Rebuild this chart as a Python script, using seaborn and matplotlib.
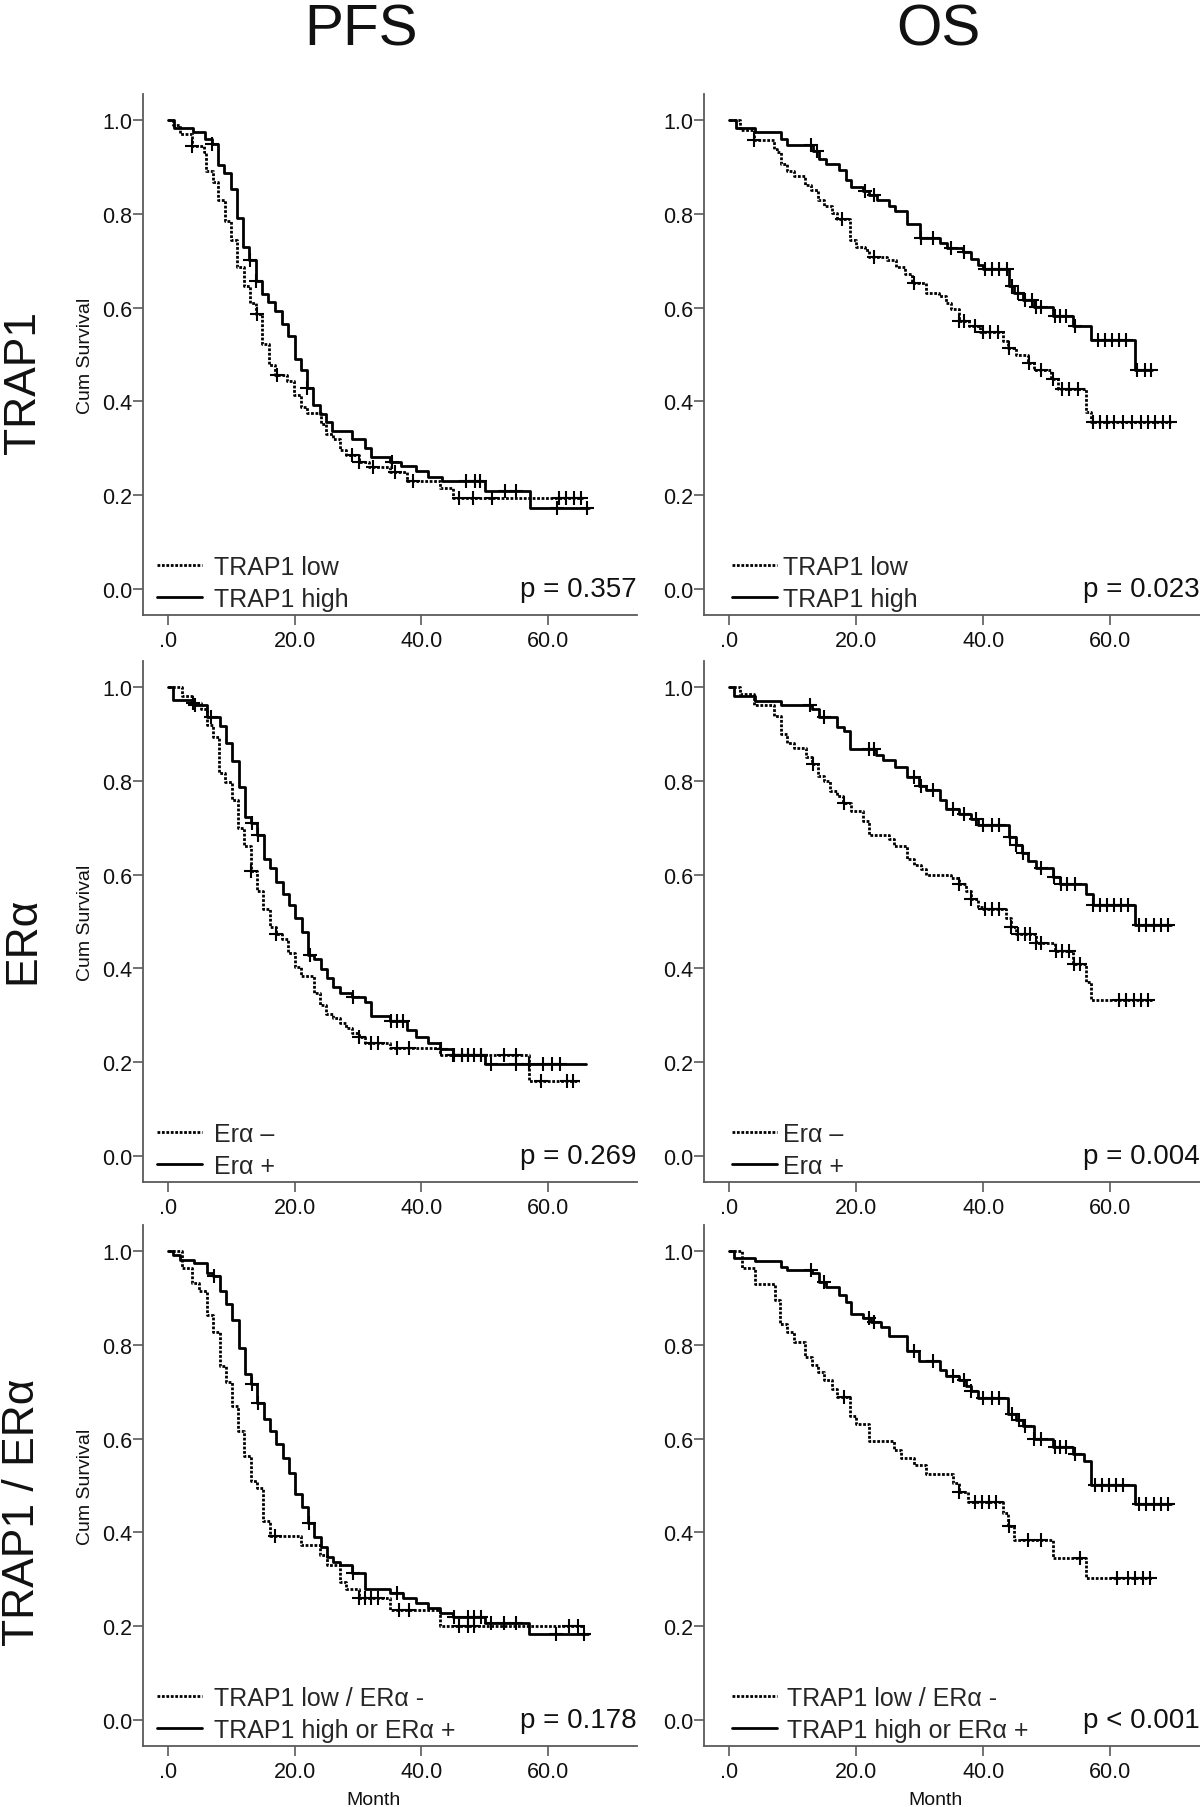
import numpy as np
import pandas as pd
import matplotlib
matplotlib.use("Agg")
import matplotlib.pyplot as plt
import seaborn as sns

# ---------------- data ----------------
col_titles = ["PFS", "OS"]
row_titles = ["TRAP1", "ERα", "TRAP1 / ERα"]
legend_labels = [["TRAP1 low", "TRAP1 high"],
                 ["Erα –", "Erα +"],
                 ["TRAP1 low / ERα -", "TRAP1 high or ERα +"]]
p_texts = [["p = 0.357", "p = 0.023"],
           ["p = 0.269", "p = 0.004"],
           ["p = 0.178", "p < 0.001"]]
x_ticks = [0, 20, 40, 60]
x_tick_labels = [".0", "20.0", "40.0", "60.0"]
y_ticks = [0.0, 0.2, 0.4, 0.6, 0.8, 1.0]
y_tick_labels = ["0.0", "0.2", "0.4", "0.6", "0.8", "1.0"]

# PFS, TRAP1
pfs_trap1_low_t = [0.8, 1.8, 3.7, 5.6, 6.0, 7.0, 7.9, 8.9, 9.9, 10.9, 11.9, 12.9, 13.9, 14.8, 15.9, 16.8, 18.8,
                   19.9, 21.0, 22.0, 24.1, 25.0, 26.1, 27.2, 28.1, 30.1, 31.7, 35.0, 37.8, 42.9, 45.0]
pfs_trap1_low_s = [0.990, 0.971, 0.946, 0.932, 0.891, 0.869, 0.829, 0.785, 0.745, 0.686, 0.646, 0.609, 0.587,
                   0.522, 0.478, 0.456, 0.444, 0.414, 0.387, 0.376, 0.352, 0.330, 0.319, 0.297, 0.286, 0.271,
                   0.260, 0.249, 0.231, 0.214, 0.194]
pfs_trap1_low_c = [3.8, 14.1, 17.2, 29.0, 30.2, 32.3, 35.9, 38.7, 45.9, 48.2, 51.1, 61.7, 62.9, 64.1, 65.3]
pfs_trap1_low_end = 65.6
pfs_trap1_high_t = [0.9, 3.9, 5.8, 6.85, 7.9, 8.8, 9.85, 10.8, 11.85, 12.8, 13.85, 14.75, 15.8, 16.85, 17.9,
                    18.95, 20.0, 20.95, 21.85, 22.9, 24.0, 25.0, 25.9, 29.1, 31.1, 32.0, 35.0, 36.8, 39.2, 41.1,
                    43.2, 50.1, 57.2]
pfs_trap1_high_s = [0.984, 0.975, 0.959, 0.950, 0.905, 0.887, 0.853, 0.791, 0.730, 0.702, 0.657, 0.630, 0.612,
                    0.593, 0.566, 0.539, 0.491, 0.466, 0.429, 0.393, 0.374, 0.356, 0.337, 0.319, 0.301, 0.281,
                    0.271, 0.263, 0.252, 0.238, 0.230, 0.209, 0.172]
pfs_trap1_high_c = [6.9, 12.85, 13.9, 21.9, 35.3, 47.0, 48.5, 49.3, 53.2, 55.0, 61.4, 66.2]
pfs_trap1_high_end = 66.5

# OS, TRAP1
os_trap1_low_t = [1.7, 3.8, 7.0, 7.5, 8.1, 9.0, 10.1, 11.9, 12.8, 14.0, 14.9, 16.1, 16.9, 19.0, 20.0, 21.4,
                  22.0, 24.8, 26.2, 27.6, 28.7, 31.0, 33.0, 34.1, 34.9, 36.1, 37.7, 39.4, 43.1, 43.9, 45.1,
                  47.0, 47.9, 50.7, 51.8, 56.1, 56.9]
os_trap1_low_s = [0.979, 0.957, 0.939, 0.932, 0.906, 0.891, 0.880, 0.862, 0.851, 0.829, 0.816, 0.803, 0.789,
                  0.745, 0.730, 0.723, 0.708, 0.701, 0.686, 0.671, 0.653, 0.631, 0.624, 0.609, 0.598, 0.572,
                  0.561, 0.547, 0.528, 0.514, 0.499, 0.481, 0.466, 0.448, 0.426, 0.378, 0.356]
os_trap1_low_c = [3.9, 17.7, 22.8, 29.0, 36.2, 36.9, 38.6, 40.0, 41.1, 42.3, 44.0, 47.1, 49.0, 51.0, 52.4,
                  53.5, 54.9, 57.2, 58.3, 59.4, 60.6, 62.0, 63.4, 64.8, 65.9, 67.0, 68.2, 69.3]
os_trap1_low_end = 69.5
os_trap1_high_t = [1.0, 4.0, 8.1, 9.0, 13.1, 14.1, 15.2, 17.2, 18.3, 19.2, 21.1, 22.0, 23.2, 25.1, 26.0, 27.9,
                   30.0, 33.1, 34.3, 36.8, 38.0, 39.2, 40.0, 44.1, 44.8, 46.2, 47.9, 51.0, 54.1, 57.0, 63.9]
os_trap1_high_s = [0.983, 0.974, 0.960, 0.948, 0.935, 0.917, 0.906, 0.894, 0.873, 0.858, 0.850, 0.840, 0.829,
                   0.816, 0.806, 0.778, 0.748, 0.739, 0.728, 0.719, 0.704, 0.691, 0.682, 0.646, 0.631, 0.617,
                   0.602, 0.583, 0.561, 0.532, 0.466]
os_trap1_high_c = [12.9, 13.8, 21.4, 22.8, 30.1, 32.1, 34.9, 36.9, 40.3, 41.4, 42.5, 43.7, 44.5, 45.4, 46.5,
                   47.6, 48.2, 49.0, 51.3, 52.1, 53.0, 54.4, 58.0, 59.2, 60.3, 61.4, 62.5, 64.2, 65.4, 66.4]
os_trap1_high_end = 66.5

# PFS, ERa
pfs_er_neg_t = [2.1, 3.8, 5.1, 6.1, 7.1, 8.0, 9.0, 10.0, 11.0, 12.0, 13.0, 14.0, 15.0, 16.0, 17.0, 18.0, 19.0,
                20.0, 21.0, 23.0, 24.0, 24.9, 26.1, 27.1, 28.1, 29.1, 30.1, 31.1, 35.1, 43.0, 57.0]
pfs_er_neg_s = [0.981, 0.966, 0.954, 0.920, 0.893, 0.817, 0.798, 0.760, 0.699, 0.661, 0.608, 0.566, 0.527,
                0.489, 0.474, 0.463, 0.432, 0.402, 0.383, 0.348, 0.322, 0.303, 0.295, 0.284, 0.272, 0.261,
                0.253, 0.241, 0.230, 0.215, 0.160]
pfs_er_neg_c = [3.9, 13.1, 17.1, 30.2, 32.1, 33.1, 36.1, 38.1, 45.0, 46.4, 47.4, 49.4, 53.0, 55.0, 59.0,
                63.0, 64.0]
pfs_er_neg_end = 65.0
pfs_er_pos_t = [0.8, 4.1, 6.1, 8.1, 9.1, 10.1, 11.1, 12.1, 13.1, 14.1, 15.1, 16.1, 17.1, 18.1, 19.1, 20.1,
                21.1, 22.1, 23.1, 24.1, 25.1, 26.1, 27.1, 29.1, 31.1, 32.1, 35.1, 37.7, 39.1, 41.1, 43.0,
                45.0, 50.0]
pfs_er_pos_s = [0.973, 0.963, 0.937, 0.918, 0.880, 0.842, 0.787, 0.722, 0.710, 0.684, 0.634, 0.615, 0.585,
                0.558, 0.535, 0.508, 0.478, 0.428, 0.421, 0.399, 0.379, 0.360, 0.348, 0.339, 0.329, 0.299,
                0.287, 0.268, 0.253, 0.241, 0.227, 0.215, 0.195]
pfs_er_pos_c = [4.2, 6.8, 13.2, 14.2, 22.4, 29.2, 35.2, 36.1, 37.1, 43.1, 45.1, 46.4, 47.4, 48.4, 49.4, 51.0,
                55.0, 57.0, 59.3, 60.7, 62.0]
pfs_er_pos_end = 66.0

# OS, ERa
os_er_neg_t = [1.7, 3.9, 7.0, 8.1, 9.0, 10.1, 12.1, 13.0, 13.9, 14.9, 15.9, 16.9, 17.9, 19.2, 21.0, 22.0, 25.1,
               25.9, 27.9, 29.0, 30.1, 31.0, 34.9, 36.1, 37.2, 38.0, 39.2, 40.0, 43.6, 44.3, 45.1, 48.2, 51.3,
               54.1, 56.1, 56.9]
os_er_neg_s = [0.985, 0.962, 0.939, 0.901, 0.882, 0.870, 0.851, 0.836, 0.811, 0.800, 0.779, 0.768, 0.752,
               0.735, 0.714, 0.684, 0.676, 0.661, 0.634, 0.620, 0.611, 0.599, 0.592, 0.581, 0.566, 0.547,
               0.531, 0.526, 0.508, 0.489, 0.473, 0.455, 0.436, 0.410, 0.371, 0.333]
os_er_neg_c = [13.2, 18.1, 36.2, 38.1, 40.3, 41.4, 42.5, 44.4, 45.4, 46.5, 47.3, 48.3, 49.0, 51.4, 52.4, 53.5,
               54.2, 55.2, 61.4, 62.5, 63.7, 64.8, 65.9]
os_er_neg_end = 66.5
os_er_pos_t = [0.8, 4.1, 8.1, 13.0, 14.1, 16.9, 18.0, 19.0, 23.1, 24.2, 26.0, 27.9, 29.9, 31.0, 33.1, 34.1,
               36.1, 38.0, 39.2, 44.1, 45.1, 46.1, 47.0, 48.2, 51.0, 52.1, 56.1, 57.2, 63.9]
os_er_pos_s = [0.981, 0.971, 0.963, 0.954, 0.937, 0.916, 0.907, 0.869, 0.855, 0.844, 0.830, 0.809, 0.790,
               0.780, 0.760, 0.741, 0.729, 0.718, 0.707, 0.680, 0.663, 0.646, 0.630, 0.615, 0.596, 0.581,
               0.558, 0.535, 0.492]
os_er_pos_c = [12.7, 14.9, 22.0, 22.8, 29.0, 30.1, 32.1, 35.2, 36.9, 38.9, 40.0, 41.4, 42.5, 44.2, 45.2, 46.2,
               49.0, 51.1, 52.2, 53.2, 54.4, 57.3, 58.3, 59.4, 60.6, 61.7, 62.8, 64.5, 65.6, 66.8, 67.9, 69.0]
os_er_pos_end = 69.6

# PFS, combined
pfs_comb_neg_t = [2.1, 3.8, 4.8, 6.1, 7.1, 8.1, 9.1, 10.0, 11.0, 12.0, 13.0, 14.0, 15.0, 16.0, 21.0, 24.0, 25.1,
                  27.1, 28.1, 30.1, 35.1, 43.0]
pfs_comb_neg_s = [0.965, 0.933, 0.915, 0.864, 0.827, 0.755, 0.721, 0.669, 0.616, 0.563, 0.510, 0.494, 0.425,
                  0.392, 0.372, 0.352, 0.331, 0.295, 0.279, 0.259, 0.234, 0.200]
pfs_comb_neg_c = [16.9, 30.2, 31.1, 32.1, 33.1, 36.4, 38.1, 46.0, 47.4, 48.4, 63.3, 64.7]
pfs_comb_neg_end = 65.7
pfs_comb_pos_t = [0.8, 1.8, 4.1, 6.1, 7.1, 8.1, 9.1, 10.1, 11.1, 12.1, 13.1, 14.1, 15.1, 16.1, 17.1, 18.1, 19.1,
                  20.1, 21.1, 22.1, 23.1, 24.1, 25.1, 26.1, 27.1, 29.1, 31.1, 35.1, 37.1, 39.1, 41.1, 43.0,
                  45.0, 50.0, 57.0]
pfs_comb_pos_s = [0.993, 0.981, 0.975, 0.953, 0.947, 0.915, 0.888, 0.853, 0.793, 0.739, 0.717, 0.677, 0.642,
                  0.616, 0.588, 0.559, 0.526, 0.482, 0.455, 0.421, 0.390, 0.368, 0.348, 0.336, 0.330, 0.314,
                  0.279, 0.271, 0.259, 0.250, 0.238, 0.228, 0.219, 0.206, 0.184]
pfs_comb_pos_c = [7.2, 13.2, 14.2, 22.2, 29.2, 36.1, 45.1, 47.4, 48.4, 49.4, 51.0, 53.0, 55.0, 61.3, 65.7]
pfs_comb_pos_end = 66.3

# OS, combined
os_comb_neg_t = [2.0, 4.1, 7.2, 7.9, 9.0, 10.1, 11.9, 13.0, 13.9, 14.9, 16.1, 16.9, 19.0, 20.0, 22.0, 25.9,
                 27.0, 29.0, 31.0, 35.2, 36.1, 37.6, 43.1, 43.9, 44.8, 51.0, 56.1]
os_comb_neg_s = [0.965, 0.931, 0.896, 0.845, 0.827, 0.806, 0.774, 0.758, 0.742, 0.725, 0.705, 0.688, 0.648,
                 0.631, 0.596, 0.575, 0.559, 0.543, 0.525, 0.506, 0.486, 0.465, 0.441, 0.413, 0.384, 0.346,
                 0.303]
os_comb_neg_c = [18.0, 36.2, 38.6, 39.7, 40.8, 42.0, 44.0, 47.0, 49.0, 55.2, 61.1, 62.8, 63.9, 65.1, 66.2]
os_comb_neg_end = 66.5
os_comb_pos_t = [0.8, 4.1, 8.1, 9.0, 13.0, 14.1, 15.2, 17.2, 18.3, 19.2, 21.1, 22.3, 23.9, 25.1, 27.9, 29.9,
                 33.1, 34.1, 36.1, 37.2, 38.0, 39.2, 43.9, 45.1, 46.2, 47.9, 51.0, 54.1, 55.9, 57.0, 63.9]
os_comb_pos_s = [0.985, 0.980, 0.967, 0.959, 0.953, 0.934, 0.924, 0.907, 0.892, 0.866, 0.858, 0.850, 0.839,
                 0.819, 0.788, 0.766, 0.746, 0.734, 0.725, 0.713, 0.701, 0.687, 0.652, 0.640, 0.628, 0.600,
                 0.583, 0.567, 0.553, 0.502, 0.461]
os_comb_pos_c = [12.8, 14.9, 22.0, 22.8, 29.0, 32.1, 35.2, 36.9, 38.1, 40.0, 41.4, 42.5, 44.5, 45.6, 46.5,
                 48.0, 49.0, 51.3, 52.1, 53.0, 54.4, 57.5, 58.6, 59.7, 60.8, 62.0, 64.5, 65.6, 66.8, 67.9, 69.0]
os_comb_pos_end = 69.6

# ---------------- helpers ----------------
def step_frame(ev_t, ev_s, end_t):
    t = np.concatenate([[0.0], ev_t, [end_t]])
    s = np.concatenate([[1.0], ev_s, [ev_s[-1]]])
    return pd.DataFrame({"Month": t, "Survival": s})


def censor_frame(ev_t, ev_s, c_t):
    ev_t = np.asarray(ev_t)
    ev_s = np.asarray(ev_s)
    c_t = np.asarray(c_t)
    idx = np.searchsorted(ev_t, c_t, side="right") - 1
    s = np.where(idx >= 0, ev_s[np.clip(idx, 0, None)], 1.0)
    return pd.DataFrame({"Month": c_t, "Survival": s})


curves = [
    [(pfs_trap1_low_t, pfs_trap1_low_s, pfs_trap1_low_c, pfs_trap1_low_end,
      pfs_trap1_high_t, pfs_trap1_high_s, pfs_trap1_high_c, pfs_trap1_high_end),
     (os_trap1_low_t, os_trap1_low_s, os_trap1_low_c, os_trap1_low_end,
      os_trap1_high_t, os_trap1_high_s, os_trap1_high_c, os_trap1_high_end)],
    [(pfs_er_neg_t, pfs_er_neg_s, pfs_er_neg_c, pfs_er_neg_end,
      pfs_er_pos_t, pfs_er_pos_s, pfs_er_pos_c, pfs_er_pos_end),
     (os_er_neg_t, os_er_neg_s, os_er_neg_c, os_er_neg_end,
      os_er_pos_t, os_er_pos_s, os_er_pos_c, os_er_pos_end)],
    [(pfs_comb_neg_t, pfs_comb_neg_s, pfs_comb_neg_c, pfs_comb_neg_end,
      pfs_comb_pos_t, pfs_comb_pos_s, pfs_comb_pos_c, pfs_comb_pos_end),
     (os_comb_neg_t, os_comb_neg_s, os_comb_neg_c, os_comb_neg_end,
      os_comb_pos_t, os_comb_pos_s, os_comb_pos_c, os_comb_pos_end)],
]

# ---------------- style ----------------
sns.set_theme(style="ticks")
plt.rcParams["font.family"] = ["Liberation Sans", "DejaVu Sans"]
spine_col = "#5a5a5a"

W, H = 1200, 1808
fig = plt.figure(figsize=(W / 100, H / 100), dpi=100)

col_left = [143 / W, 704 / W]
col_width = [494 / W, 496 / W]
row_bottom = [1 - 616 / H, 1 - 1183 / H, 1 - 1747 / H]
ax_h = 521 / H

dotted = (0, (1.0, 0.6))

for r in range(3):
    for c in range(2):
        ax = fig.add_axes([col_left[c], row_bottom[r], col_width[c], ax_h])
        lt, ls, lc, le, ht, hs, hc, he = curves[r][c]
        lab_low, lab_high = legend_labels[r]

        sns.lineplot(data=step_frame(lt, ls, le), x="Month", y="Survival", ax=ax,
                     drawstyle="steps-post", estimator=None, sort=False, color="black",
                     linewidth=2.0, linestyle=dotted, label=lab_low)
        sns.lineplot(data=step_frame(ht, hs, he), x="Month", y="Survival", ax=ax,
                     drawstyle="steps-post", estimator=None, sort=False, color="black",
                     linewidth=2.0, label=lab_high)
        sns.scatterplot(data=censor_frame(lt, ls, lc), x="Month", y="Survival", ax=ax,
                        marker="+", s=95, color="black", linewidth=1.5, legend=False, zorder=3)
        sns.scatterplot(data=censor_frame(ht, hs, hc), x="Month", y="Survival", ax=ax,
                        marker="+", s=95, color="black", linewidth=1.5, legend=False, zorder=3)

        ax.set_xlim(-4.0, 74.1)
        ax.set_ylim(-0.056, 1.056)
        ax.set_xticks(x_ticks)
        ax.set_xticklabels(x_tick_labels)
        ax.set_yticks(y_ticks)
        ax.set_yticklabels(y_tick_labels)
        sns.despine(ax=ax)
        for side in ["left", "bottom"]:
            ax.spines[side].set_color(spine_col)
            ax.spines[side].set_linewidth(1.3)
        ax.tick_params(axis="both", direction="out", length=7, width=1.2, color=spine_col,
                       labelsize=15.5, labelcolor="#111111")
        ax.tick_params(axis="y", pad=1)
        ax.tick_params(axis="x", pad=4)

        if c == 0:
            ax.set_ylabel("Cum Survival", fontsize=14, color="#111111")
            ax.yaxis.set_label_coords(-0.10, 0.5)
        else:
            ax.set_ylabel("")
        if r == 2:
            ax.set_xlabel("Month", fontsize=14, color="#111111")
            ax.xaxis.set_label_coords(0.467, -0.0865)
        else:
            ax.set_xlabel("")

        handles, labels = ax.get_legend_handles_labels()
        x0 = 0.028 if c == 0 else 0.056
        tpad = 0.5 if c == 0 else (0.25 if r < 2 else 0.4)
        ax.legend(handles, labels, loc="lower left", bbox_to_anchor=(x0, 0.008),
                  frameon=False, borderpad=0, borderaxespad=0, handlelength=1.8,
                  handletextpad=tpad, labelspacing=0.32, fontsize=18)

        ax.text(1.0, 0.0, p_texts[r][c], transform=ax.get_yaxis_transform(),
                ha="right", va="center", fontsize=20, color="#111111")

# column titles
fig.text(361 / W, 1 - 46 / H, col_titles[0], ha="center", va="baseline", fontsize=42, color="#111111")
fig.text(938 / W, 1 - 46 / H, col_titles[1], ha="center", va="baseline", fontsize=42, color="#111111")
# row titles
row_centers = [382, 940, 1512]
for r in range(3):
    fig.text(23 / W, 1 - row_centers[r] / H, row_titles[r], rotation=90, ha="center", va="center",
             fontsize=32, color="#111111")

fig.savefig("out.png", dpi=100)
